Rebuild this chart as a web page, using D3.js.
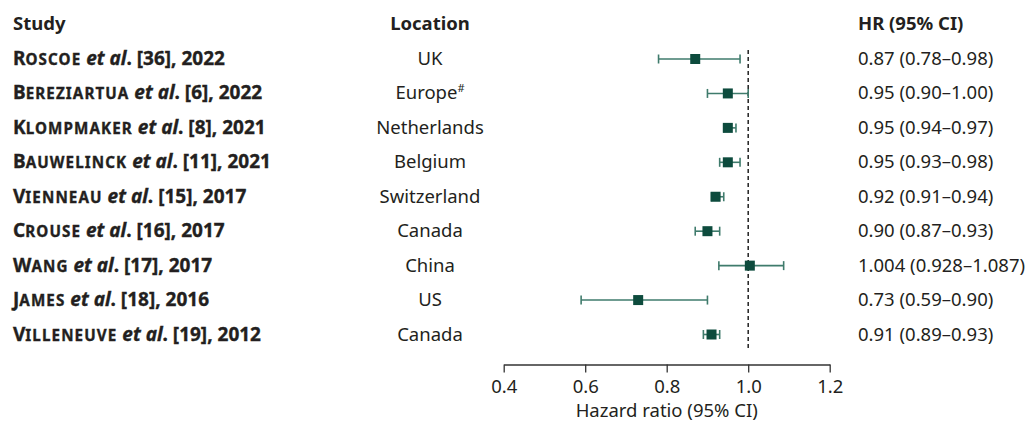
<!DOCTYPE html>
<html>
<head>
<meta charset="utf-8">
<script src="https://cdn.jsdelivr.net/npm/d3@7"></script>
<style>
  html, body { margin: 0; padding: 0; background: #ffffff; }
  svg { display: block; font-family: "Noto Sans", Lato, sans-serif; }
</style>
</head>
<body>
<svg id="chart" width="1029" height="422"></svg>
<script>
// Study-level hazard ratios for mortality vs. greenness exposure
const authors   = ["Roscoe", "Bereziartua", "Klompmaker", "Bauwelinck", "Vienneau", "Crouse", "Wang", "James", "Villeneuve"];
const refs      = [36, 6, 8, 11, 15, 16, 17, 18, 19];
const years     = [2022, 2022, 2021, 2021, 2017, 2017, 2017, 2016, 2012];
const locations = ["UK", "Europe", "Netherlands", "Belgium", "Switzerland", "Canada", "China", "US", "Canada"];
const locNotes  = ["", "#", "", "", "", "", "", "", ""];
const hr        = [0.87, 0.95, 0.95, 0.95, 0.92, 0.90, 1.004, 0.73, 0.91];
const ciLow     = [0.78, 0.90, 0.94, 0.93, 0.91, 0.87, 0.928, 0.59, 0.89];
const ciHigh    = [0.98, 1.00, 0.97, 0.98, 0.94, 0.93, 1.087, 0.90, 0.93];
const decimals  = [2, 2, 2, 2, 2, 2, 3, 2, 2];
const xTicks    = [0.4, 0.6, 0.8, 1.0, 1.2];

const rows = authors.map((a, i) => ({
  id: i, author: a, ref: refs[i], year: years[i],
  loc: locations[i], note: locNotes[i],
  hr: hr[i], lo: ciLow[i], hi: ciHigh[i], dp: decimals[i]
}));

const svg = d3.select("#chart");
const textColor = "#231f20";
const markColor = "#0d4b3d";
const ciColor = "#3f7b6c";
const fs = 18.5;
const fsStudy = 19;

const x = d3.scaleLinear().domain([0.4, 1.2]).range([503.7, 829.7]);
const y = d3.scalePoint().domain(rows.map(d => d.id)).range([59, 334.5]);

// Column headers
const headerY = 30;
svg.append("text").attr("x", 13).attr("y", headerY)
  .attr("font-weight", 700).attr("font-size", fs).attr("fill", textColor).text("Study");
svg.append("text").attr("x", 430).attr("y", headerY).attr("text-anchor", "middle")
  .attr("font-weight", 700).attr("font-size", fs).attr("fill", textColor).text("Location");
svg.append("text").attr("x", 858).attr("y", headerY)
  .attr("font-weight", 700).attr("font-size", fs).attr("fill", textColor).text("HR (95% CI)");

// Study names: author in small capitals, "et al." italic, heavy weight
const study = svg.append("g").selectAll("text").data(rows).join("text")
  .attr("x", 13).attr("y", d => y(d.id) + 6)
  .attr("font-size", fsStudy).attr("font-weight", 700).attr("fill", textColor)
  .attr("stroke", textColor).attr("stroke-width", 0.35);
study.append("tspan").text(d => d.author[0].toUpperCase());
study.append("tspan").attr("font-size", fsStudy * 0.8).attr("letter-spacing", 1.1)
  .text(d => d.author.slice(1).toUpperCase());
study.append("tspan").attr("font-style", "italic").text(" et al");
study.append("tspan").text(d => `. [${d.ref}], ${d.year}`);

// Locations
const loc = svg.append("g").selectAll("text").data(rows).join("text")
  .attr("x", 430).attr("y", d => y(d.id) + 6).attr("text-anchor", "middle")
  .attr("font-size", fs).attr("fill", textColor);
loc.append("tspan").text(d => d.loc);
loc.filter(d => d.note).append("tspan")
  .attr("font-size", fs * 0.6).attr("dy", -7).text(d => d.note);

// HR (95% CI) text
const fmt = (v, dp) => v.toFixed(dp);
svg.append("g").selectAll("text").data(rows).join("text")
  .attr("x", 858).attr("y", d => y(d.id) + 6)
  .attr("font-size", fs).attr("fill", textColor)
  .text(d => `${fmt(d.hr, d.dp)} (${fmt(d.lo, d.dp)}\u2013${fmt(d.hi, d.dp)})`);

// Reference line at HR = 1
svg.append("line")
  .attr("x1", x(1)).attr("x2", x(1)).attr("y1", 50).attr("y2", 348)
  .attr("stroke", "#222").attr("stroke-width", 1.5).attr("stroke-dasharray", "4,3");

// Confidence intervals
const ci = svg.append("g").selectAll("g").data(rows).join("g")
  .attr("transform", d => `translate(0,${y(d.id)})`);
ci.append("line").attr("x1", d => x(d.lo)).attr("x2", d => x(d.hi))
  .attr("stroke", ciColor).attr("stroke-width", 1.6);
ci.append("line").attr("x1", d => x(d.lo)).attr("x2", d => x(d.lo)).attr("y1", -4.5).attr("y2", 4.5)
  .attr("stroke", ciColor).attr("stroke-width", 1.6);
ci.append("line").attr("x1", d => x(d.hi)).attr("x2", d => x(d.hi)).attr("y1", -4.5).attr("y2", 4.5)
  .attr("stroke", ciColor).attr("stroke-width", 1.6);
// Point estimates
ci.append("rect").attr("x", d => x(d.hr) - 5).attr("y", -5).attr("width", 10).attr("height", 10)
  .attr("fill", markColor);

// X axis
const axisG = svg.append("g").attr("transform", "translate(0,364.5)")
  .call(d3.axisBottom(x).tickValues(xTicks).tickFormat(d3.format(".1f")).tickSize(8).tickSizeOuter(0));
axisG.select(".domain").attr("stroke", "#333").attr("stroke-width", 1.3);
axisG.selectAll(".tick line").attr("stroke", "#333").attr("stroke-width", 1.3);
axisG.selectAll(".tick text").attr("font-family", "'Noto Sans', sans-serif").attr("font-size", fs)
  .attr("fill", textColor).attr("dy", "0.95em");

svg.append("text").attr("x", (x.range()[0] + x.range()[1]) / 2).attr("y", 417)
  .attr("text-anchor", "middle").attr("font-size", fs).attr("fill", textColor)
  .text("Hazard ratio (95% CI)");
</script>
</body>
</html>
